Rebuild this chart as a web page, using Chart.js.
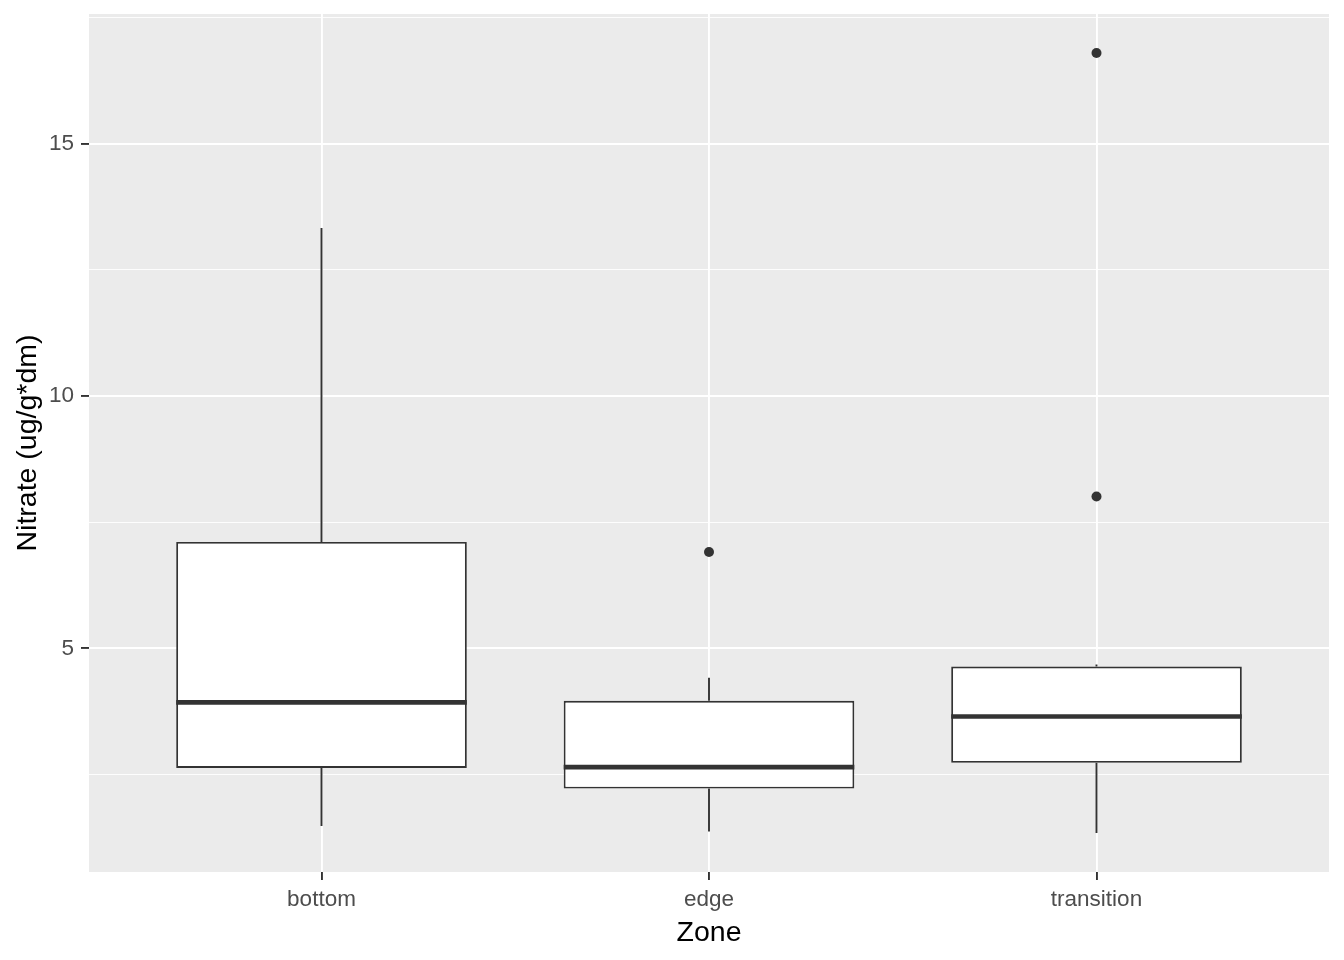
<!DOCTYPE html>
<html>
<head>
<meta charset="utf-8">
<script src="https://cdn.jsdelivr.net/npm/chart.js@4.4.1/dist/chart.umd.min.js"></script>
<style>
  html, body { margin: 0; padding: 0; background: #ffffff; }
  #wrap { width: 1344px; height: 960px; }
</style>
</head>
<body>
<div id="wrap"><canvas id="chart" width="1344" height="960"></canvas></div>
<script>
// ── Data ────────────────────────────────────────────────────────────────────
const zones        = ["bottom", "edge", "transition"];
const whiskerLow   = [1.48, 1.37, 1.34];
const q1           = [2.63, 2.22, 2.73];
const medians      = [3.93, 2.645, 3.65];
const q3           = [7.11, 3.96, 4.64];
const whiskerHigh  = [13.33, 4.415, 4.68];
const outlierZone  = [1, 2, 2];
const outlierValue = [6.91, 16.80, 8.01];

const yTicks = [2.5, 5, 7.5, 10, 12.5, 15, 17.5];
const yRange = [0.567, 17.573];

const INK = "#333333";
const FONT = "'Liberation Sans', Arial, sans-serif";

// grey ggplot panel behind the grid
const panelBg = {
  id: "panelBg",
  beforeDraw(chart) {
    const { ctx, chartArea: a } = chart;
    ctx.save();
    ctx.fillStyle = "#EBEBEB";
    ctx.fillRect(a.left, a.top, a.right - a.left, a.bottom - a.top);
    ctx.restore();
  }
};

// whiskers + median bars on top of the box datasets
const boxExtras = {
  id: "boxExtras",
  afterDatasetsDraw(chart) {
    const { ctx, scales } = chart;
    const boxes = chart.getDatasetMeta(0).data;
    ctx.save();
    ctx.strokeStyle = INK;
    ctx.lineCap = "butt";
    zones.forEach((z, i) => {
      const x = scales.x.getPixelForValue(i);
      ctx.lineWidth = 1.9;
      ctx.beginPath();
      ctx.moveTo(x, scales.y.getPixelForValue(whiskerHigh[i]));
      ctx.lineTo(x, scales.y.getPixelForValue(q3[i]));
      ctx.moveTo(x, scales.y.getPixelForValue(q1[i]));
      ctx.lineTo(x, scales.y.getPixelForValue(whiskerLow[i]));
      ctx.stroke();

      const half = boxes[i].width / 2;
      const ym = scales.y.getPixelForValue(medians[i]);
      ctx.lineWidth = 4.6;
      ctx.beginPath();
      ctx.moveTo(x - half, ym);
      ctx.lineTo(x + half, ym);
      ctx.stroke();
    });
    ctx.restore();
  }
};

new Chart(document.getElementById("chart"), {
  type: "bar",
  data: {
    datasets: [
      {
        type: "bar",
        data: zones.map((z, i) => ({ x: i, y: [q1[i], q3[i]] })),
        backgroundColor: "#FFFFFF",
        borderColor: INK,
        borderWidth: 1.9,
        borderSkipped: false,
        barPercentage: 0.75,
        categoryPercentage: 1
      },
      {
        type: "scatter",
        data: outlierZone.map((z, i) => ({ x: z, y: outlierValue[i] })),
        backgroundColor: INK,
        borderWidth: 0,
        pointRadius: 5
      }
    ]
  },
  options: {
    responsive: false,
    animation: false,
    devicePixelRatio: 1,
    layout: { padding: { top: 14, right: 15, left: 0, bottom: 0 } },
    plugins: { legend: { display: false }, tooltip: { enabled: false } },
    scales: {
      x: {
        type: "linear",
        offset: false,
        min: -0.6,
        max: 2.6,
        afterBuildTicks: s => { s.ticks = zones.map((z, i) => ({ value: i })); },
        afterFit: s => { s.height = 88; s.paddingLeft = 0; s.paddingRight = 0; },
        border: { display: false },
        grid: { offset: false, color: "#FFFFFF", lineWidth: 1.9, tickColor: INK, tickLength: 8, tickWidth: 1.9 },
        ticks: {
          callback: v => zones[v],
          color: "#4D4D4D",
          font: { family: FONT, size: 22.5 },
          padding: 6,
          maxRotation: 0,
          autoSkip: false
        },
        title: {
          display: true,
          text: "Zone",
          color: "#000000",
          font: { family: FONT, size: 28.5 },
          padding: { top: 0, bottom: 10 }
        }
      },
      y: {
        type: "linear",
        min: yRange[0],
        max: yRange[1],
        afterBuildTicks: s => { s.ticks = yTicks.map(v => ({ value: v })); },
        afterFit: s => { s.width = 89; s.paddingTop = 0; s.paddingBottom = 0; },
        border: { display: false },
        grid: {
          color: "#FFFFFF",
          lineWidth: c => (c.tick && c.tick.value % 5 === 0 ? 1.9 : 0.9),
          tickColor: c => (c.tick && c.tick.value % 5 === 0 ? INK : "rgba(0,0,0,0)"),
          tickLength: 8,
          tickWidth: 1.9
        },
        ticks: {
          callback: v => (v % 5 === 0 ? String(v) : ""),
          color: "#4D4D4D",
          font: { family: FONT, size: 22.5 },
          padding: 7,
          autoSkip: false
        },
        title: {
          display: true,
          text: "Nitrate (ug/g*dm)",
          color: "#000000",
          font: { family: FONT, size: 28.5 },
          padding: { top: 11, bottom: 0 }
        }
      }
    }
  },
  plugins: [panelBg, boxExtras]
});
</script>
</body>
</html>
